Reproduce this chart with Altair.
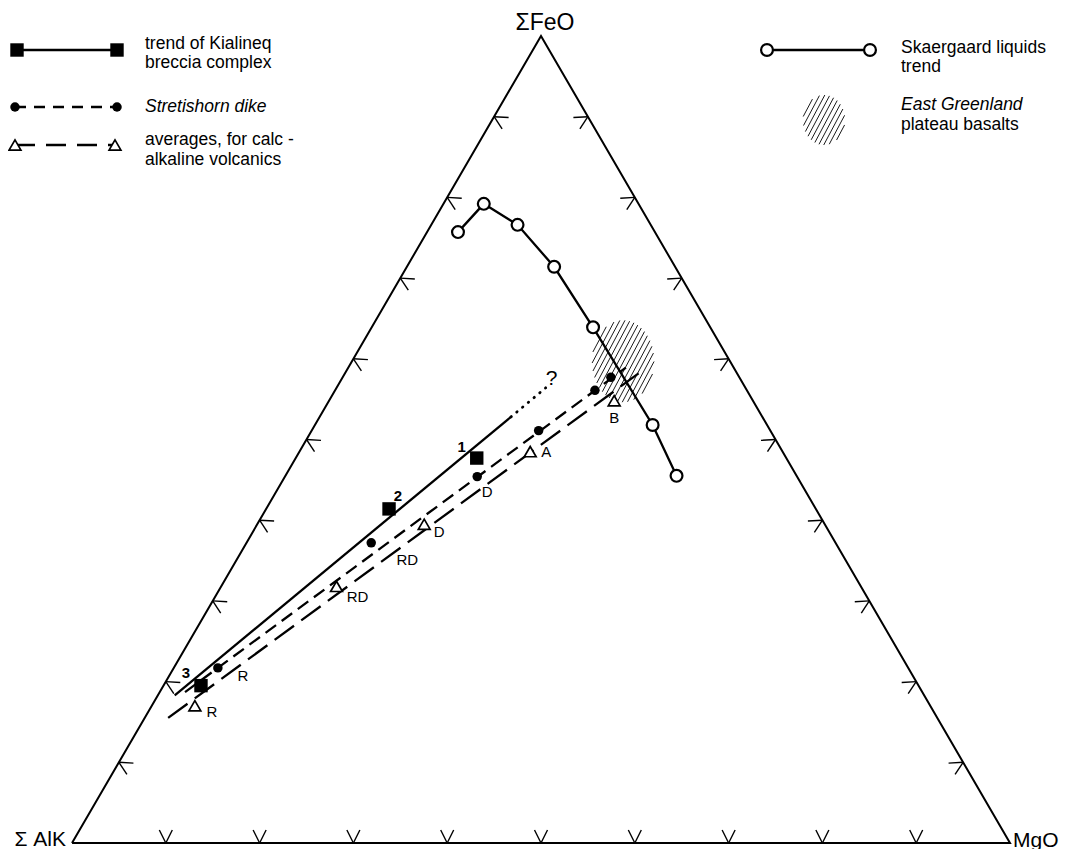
import math
import pandas as pd
import altair as alt

# ---------------- data: ternary percentages (A = ΣAlk, F = ΣFeO, M = MgO) ----------------
skaer_A = [21.0, 16.5, 14.2, 12.9, 12.5, 12.2, 12.8]
skaer_F = [75.7, 79.2, 76.6, 71.4, 63.9, 51.8, 45.5]
skaer_M = [3.3, 4.3, 9.2, 15.7, 23.6, 36.0, 41.7]

kial_A = [33.0, 45.5, 76.5]
kial_F = [47.7, 41.4, 19.5]
kial_M = [19.3, 13.1, 4.0]
kial_lab = ["1", "2", "3"]
kial_trend_F = [18.3, 52.8]
kial_trend_M = [1.8, 20.4]
kial_ext_F = [52.8, 56.4]
kial_ext_M = [20.4, 22.3]

stret_F = [21.7, 37.2, 45.4, 51.1, 56.1, 57.7]
stret_M = [4.7, 13.3, 20.5, 24.2, 27.7, 28.6]
stret_lab = ["R", "RD", "D", "", "", ""]
stret_trend_F = [18.7, 58.9]
stret_trend_M = [2.7, 29.6]

calc_F = [17.0, 31.8, 39.5, 48.5, 54.8]
calc_M = [4.6, 12.3, 17.8, 24.6, 30.4]
calc_lab = ["R", "RD", "D", "A", "B"]
calc_trend_F = [15.5, 58.2]
calc_trend_M = [2.5, 31.3]

plateau_F = 59.7
plateau_M = 28.9

tick_pct = [10, 20, 30, 40, 50, 60, 70, 80, 90]

# ---------------- layout / style ----------------
S3 = math.sqrt(3) / 2
W, H = 938, 807
KX = W / 100.0
KY = H / (100 * S3)
FONT = "Liberation Sans"
LW = 2.3

kial_off = [(-15, -11), (9, -13), (-15, -13)]
stret_off = [(25, 8), (36, 17), (10, 15), (0, 0), (0, 0), (0, 0)]
calc_off = [(17, 6), (21, 11), (15, 8), (16, 0), (0, 17)]


def tx(F, M):
    return M + F / 2.0


def ty(F):
    return F * S3


def points(F, M, labels=None, offs=None):
    rows = []
    for i, (f, m) in enumerate(zip(F, M)):
        x, y = tx(f, m), ty(f)
        r = {"x": x, "y": y}
        if labels is not None:
            dx, dy = offs[i]
            r["lab"] = labels[i]
            r["lx"] = x + dx / KX
            r["ly"] = y - dy / KY
        rows.append(r)
    return pd.DataFrame(rows)


def segment(F, M):
    return pd.DataFrame({"x": [tx(F[0], M[0])], "y": [ty(F[0])],
                         "x2": [tx(F[1], M[1])], "y2": [ty(F[1])]})


def hatch(a, b, ang=62.0, sp=4.5):
    th = math.radians(ang)
    dx, dy = math.cos(th), math.sin(th)
    nx, ny = -dy, dx
    segs = []
    R = max(a, b)
    o = -R
    while o <= R:
        px, py = o * nx, o * ny
        A_ = (dx / a) ** 2 + (dy / b) ** 2
        B_ = 2 * (px * dx / a ** 2 + py * dy / b ** 2)
        C_ = (px / a) ** 2 + (py / b) ** 2 - 1
        disc = B_ * B_ - 4 * A_ * C_
        if disc > 0:
            t1 = (-B_ - math.sqrt(disc)) / (2 * A_)
            t2 = (-B_ + math.sqrt(disc)) / (2 * A_)
            segs.append((px + t1 * dx, py + t1 * dy, px + t2 * dx, py + t2 * dy))
        o += sp
    return segs


SX = alt.Scale(domain=[0, 100], nice=False, zero=False)
SY = alt.Scale(domain=[0, 100 * S3], nice=False, zero=False)
X = alt.X("x:Q", scale=SX, axis=None)
Y = alt.Y("y:Q", scale=SY, axis=None)
XP = alt.X("x:Q", scale=None, axis=None)
YP = alt.Y("y:Q", scale=None, axis=None)

# ---------------- triangle frame ----------------
tri_df = pd.DataFrame({"x": [0, 100, 50, 0], "y": [0, 0, 100 * S3, 0], "o": [0, 1, 2, 3]})
frame = alt.Chart(tri_df).mark_line(color="black", strokeWidth=2, strokeJoin="miter").encode(
    x=X, y=Y, order="o:Q")

# chevron ticks
base_arms = [(-6.5, 13.0), (6.5, 13.0)]


def rot(v, deg):
    t = math.radians(deg)
    return (v[0] * math.cos(t) - v[1] * math.sin(t), v[0] * math.sin(t) + v[1] * math.cos(t))


edges = [((0, 0), (100, 0), 0), ((0, 0), (50, 100 * S3), -120), ((100, 0), (50, 100 * S3), 120)]
tick_rows = []
for p0, p1, r in edges:
    for p in tick_pct:
        bx = p0[0] + p / 100 * (p1[0] - p0[0])
        by = p0[1] + p / 100 * (p1[1] - p0[1])
        for arm in base_arms:
            ax, ay = rot(arm, r)
            tick_rows.append({"x": bx, "y": by, "x2": bx + ax / KX, "y2": by + ay / KY})
ticks = alt.Chart(pd.DataFrame(tick_rows)).mark_rule(color="black", strokeWidth=1.4).encode(
    x=X, y=Y, x2="x2:Q", y2="y2:Q")

# ---------------- plateau basalts field ----------------
cx, cy = tx(plateau_F, plateau_M), ty(plateau_F)
hrows = [{"x": cx + a1 / KX, "y": cy + b1 / KY, "x2": cx + a2 / KX, "y2": cy + b2 / KY}
         for a1, b1, a2, b2 in hatch(31, 41)]
field = alt.Chart(pd.DataFrame(hrows)).mark_rule(color="black", strokeWidth=0.9).encode(
    x=X, y=Y, x2="x2:Q", y2="y2:Q")

# ---------------- trends ----------------
sk_df = points(skaer_F, skaer_M)
sk_df["o"] = range(len(sk_df))
sk_line = alt.Chart(sk_df).mark_line(color="black", strokeWidth=LW).encode(x=X, y=Y, order="o:Q")
sk_pts = alt.Chart(sk_df).mark_point(shape="circle", size=140, fill="white", fillOpacity=1,
                                     stroke="black", strokeWidth=2.2, opacity=1).encode(x=X, y=Y)

k_line = alt.Chart(segment(kial_trend_F, kial_trend_M)).mark_rule(color="black", strokeWidth=LW).encode(
    x=X, y=Y, x2="x2:Q", y2="y2:Q")
k_ext = alt.Chart(segment(kial_ext_F, kial_ext_M)).mark_rule(
    color="black", strokeWidth=2.8, strokeDash=[0.5, 7], strokeCap="round").encode(
    x=X, y=Y, x2="x2:Q", y2="y2:Q")
k_df = points(kial_F, kial_M, kial_lab, kial_off)
k_pts = alt.Chart(k_df).mark_point(shape="square", size=180, filled=True, color="black",
                                   opacity=1).encode(x=X, y=Y)
LX = alt.X("lx:Q", scale=SX, axis=None)
LY = alt.Y("ly:Q", scale=SY, axis=None)
k_txt = alt.Chart(k_df).mark_text(font=FONT, fontSize=15, fontWeight="bold", color="black",
                                  baseline="middle").encode(x=LX, y=LY, text="lab:N")
ext_end = pd.DataFrame({"x": [tx(kial_ext_F[1], kial_ext_M[1]) + 6 / KX],
                        "y": [ty(kial_ext_F[1]) + 9 / KY], "t": ["?"]})
q_txt = alt.Chart(ext_end).mark_text(font=FONT, fontSize=21, color="black",
                                     baseline="middle").encode(x=X, y=Y, text="t:N")

s_line = alt.Chart(segment(stret_trend_F, stret_trend_M)).mark_rule(
    color="black", strokeWidth=LW, strokeDash=[13, 7]).encode(x=X, y=Y, x2="x2:Q", y2="y2:Q")
s_df = points(stret_F, stret_M, stret_lab, stret_off)
s_pts = alt.Chart(s_df).mark_point(shape="circle", size=90, filled=True, color="black",
                                   opacity=1).encode(x=X, y=Y)

c_line = alt.Chart(segment(calc_trend_F, calc_trend_M)).mark_rule(
    color="black", strokeWidth=LW, strokeDash=[24, 9]).encode(x=X, y=Y, x2="x2:Q", y2="y2:Q")
c_df = points(calc_F, calc_M, calc_lab, calc_off)
c_pts = alt.Chart(c_df).mark_point(shape="triangle-up", size=140, fill="white", fillOpacity=1,
                                   stroke="black", strokeWidth=1.7, opacity=1).encode(x=X, y=Y)

lab_df = pd.concat([s_df[s_df["lab"] != ""], c_df], ignore_index=True)
pt_txt = alt.Chart(lab_df).mark_text(font=FONT, fontSize=15, color="black",
                                     baseline="middle").encode(x=LX, y=LY, text="lab:N")

# ---------------- vertex labels (pixel positions relative to plot origin) ----------------
vtx2 = alt.Chart(pd.DataFrame({"x": [941], "y": [811], "t": ["MgO"]})).mark_text(
    font=FONT, fontSize=21, color="black", baseline="alphabetic", align="left").encode(
    x=XP, y=YP, text="t:N")
vtx_top = alt.Chart(pd.DataFrame({"x": [473], "y": [-6], "t": ["ΣFeO"]})).mark_text(
    font=FONT, fontSize=23, color="black", baseline="alphabetic", align="center").encode(
    x=XP, y=YP, text="t:N")
vtx_alk = alt.Chart(pd.DataFrame({"x": [-6], "y": [810], "t": ["Σ AlK"]})).mark_text(
    font=FONT, fontSize=21, color="black", baseline="alphabetic", align="right").encode(
    x=XP, y=YP, text="t:N")

# ---------------- legend (pixel positions relative to plot origin) ----------------
leg_lines = pd.DataFrame({
    "x": [-55, -57, -57, 695], "x2": [45, 45, 43, 798],
    "y": [14, 71, 109, 14], "k": ["k", "s", "c", "sk"]})
lg_k = alt.Chart(leg_lines[leg_lines.k == "k"]).mark_rule(color="black", strokeWidth=LW).encode(
    x=XP, x2="x2:Q", y=YP)
lg_s = alt.Chart(leg_lines[leg_lines.k == "s"]).mark_rule(color="black", strokeWidth=LW,
                                                          strokeDash=[11, 8]).encode(
    x=XP, x2="x2:Q", y=YP)
lg_c = alt.Chart(leg_lines[leg_lines.k == "c"]).mark_rule(color="black", strokeWidth=LW,
                                                          strokeDash=[20, 11]).encode(
    x=XP, x2="x2:Q", y=YP)
lg_sk = alt.Chart(leg_lines[leg_lines.k == "sk"]).mark_rule(color="black", strokeWidth=LW).encode(
    x=XP, x2="x2:Q", y=YP)

lg_sq = alt.Chart(pd.DataFrame({"x": [-55, 45], "y": [14, 14]})).mark_point(
    shape="square", size=180, filled=True, color="black", opacity=1).encode(x=XP, y=YP)
lg_dot = alt.Chart(pd.DataFrame({"x": [-57, 45], "y": [71, 71]})).mark_point(
    shape="circle", size=90, filled=True, color="black", opacity=1).encode(x=XP, y=YP)
lg_tri = alt.Chart(pd.DataFrame({"x": [-57, 43], "y": [109, 109]})).mark_point(
    shape="triangle-up", size=140, fill="white", fillOpacity=1, stroke="black",
    strokeWidth=1.7, opacity=1).encode(x=XP, y=YP)
lg_circ = alt.Chart(pd.DataFrame({"x": [695, 798], "y": [14, 14]})).mark_point(
    shape="circle", size=140, fill="white", fillOpacity=1, stroke="black", strokeWidth=2.2,
    opacity=1).encode(x=XP, y=YP)
lgh = [{"x": 752 + a1, "y": 84 - b1, "x2": 752 + a2, "y2": 84 - b2}
       for a1, b1, a2, b2 in hatch(21, 25)]
lg_hatch = alt.Chart(pd.DataFrame(lgh)).mark_rule(color="black", strokeWidth=0.9).encode(
    x=XP, y=YP, x2="x2:Q", y2="y2:Q")

leg_txt = pd.DataFrame({
    "x": [73, 73, 73, 73, 73, 829, 829, 829, 829],
    "y": [12.5, 32, 76, 109, 129, 17, 36, 74, 94],
    "t": ["trend of Kialineq", "breccia complex", "Stretishorn dike",
          "averages, for calc -", "alkaline volcanics",
          "Skaergaard liquids", "trend", "East Greenland", "plateau basalts"],
    "st": ["normal", "normal", "italic", "normal", "normal", "normal", "normal", "italic", "normal"]})
lt_n = alt.Chart(leg_txt[leg_txt.st == "normal"]).mark_text(
    font=FONT, fontSize=17.5, color="black", align="left", baseline="alphabetic").encode(
    x=XP, y=YP, text="t:N")
lt_i = alt.Chart(leg_txt[leg_txt.st == "italic"]).mark_text(
    font=FONT, fontSize=17.5, fontStyle="italic", color="black", align="left",
    baseline="alphabetic").encode(x=XP, y=YP, text="t:N")

chart = alt.layer(
    field, frame, ticks, sk_line, c_line, s_line, k_line, k_ext,
    sk_pts, c_pts, s_pts, k_pts, k_txt, pt_txt, q_txt,
    vtx_top, vtx2, vtx_alk,
    lg_k, lg_s, lg_c, lg_sk, lg_sq, lg_dot, lg_tri, lg_circ, lg_hatch, lt_n, lt_i
).properties(
    width=W, height=H,
    padding={"left": 64, "top": 28, "right": 50, "bottom": 10},
    autosize=alt.AutoSizeParams(type="none"),
    background="white",
).configure_view(stroke=None)

chart.save("out.html", embed_options={"renderer": "svg", "actions": False})
